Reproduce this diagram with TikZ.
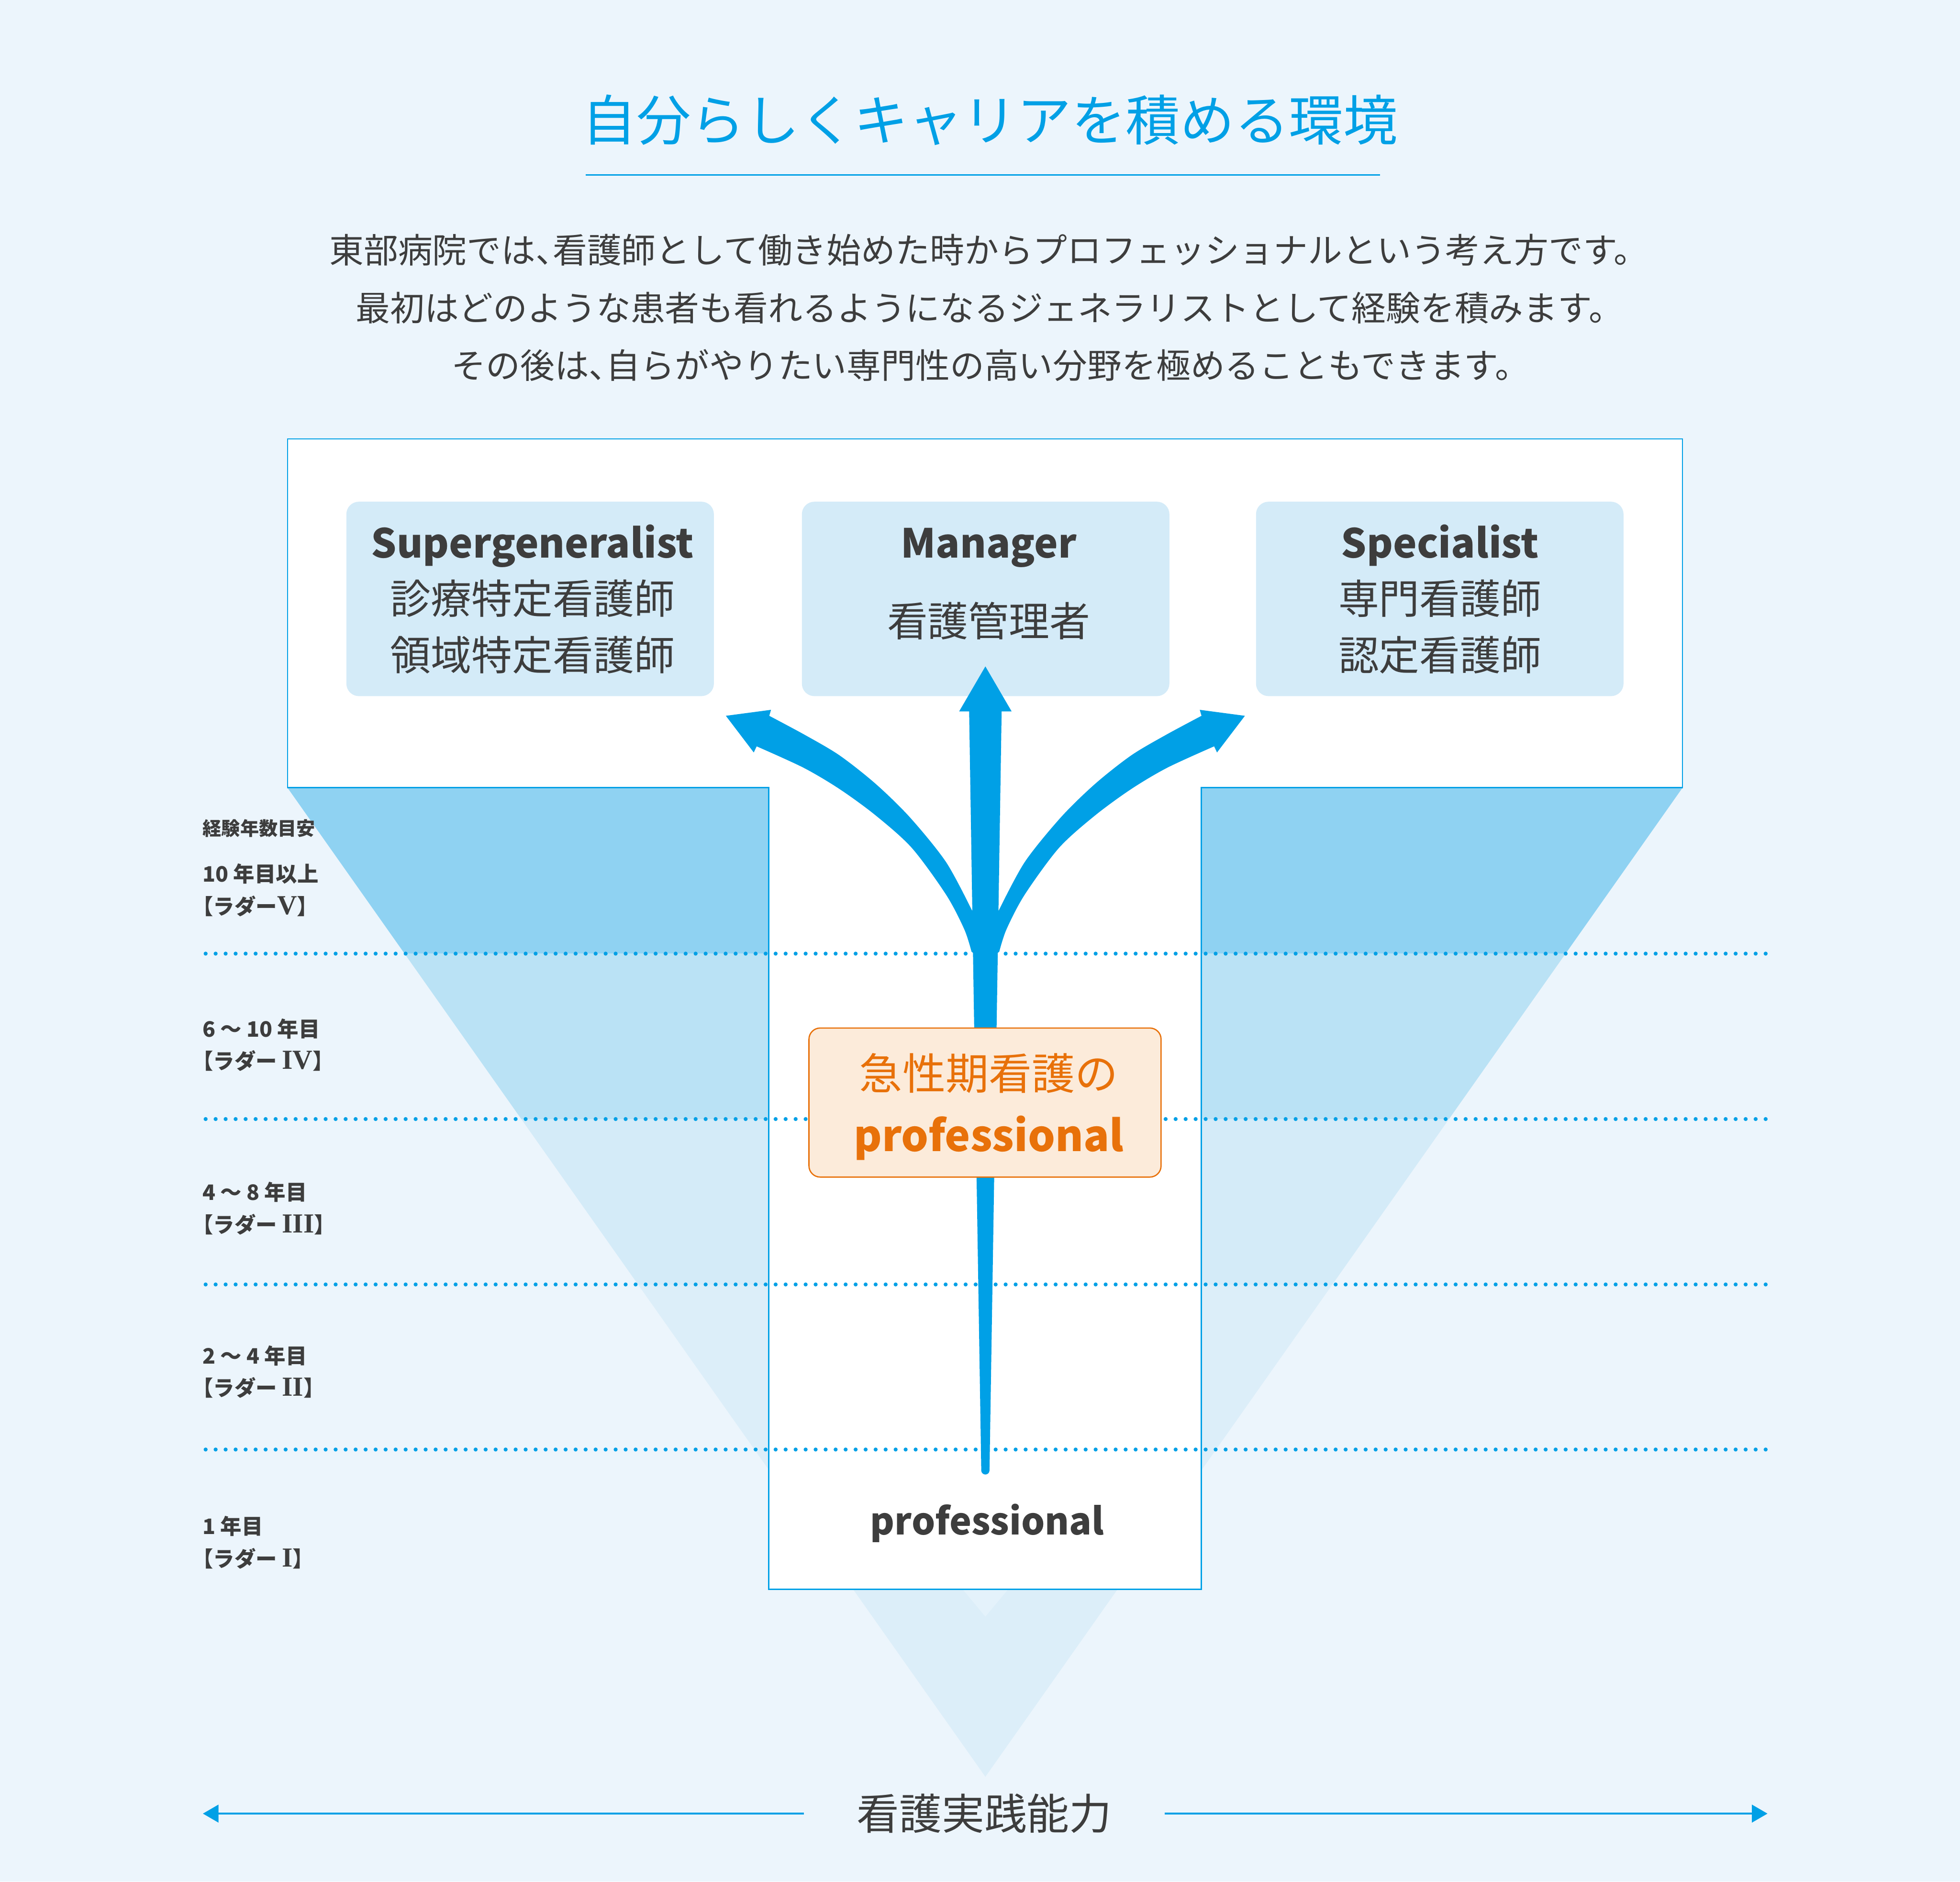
\documentclass[tikz,border=0pt]{standalone}
\usepackage{fontspec}
\setmainfont{Noto Sans CJK JP}
\newfontfamily\romanfont{Liberation Serif}
\usepackage{tikz}
\usetikzlibrary{arrows.meta}
\usepackage{xcolor}

\definecolor{bgblue}{HTML}{ECF5FC}
\definecolor{mainblue}{HTML}{00A0E6}
\definecolor{textgray}{HTML}{3D3D3D}
\definecolor{bandA}{HTML}{8FD2F2}
\definecolor{bandB}{HTML}{BAE2F5}
\definecolor{bandC}{HTML}{D4EBF8}
\definecolor{bandD}{HTML}{DCEEF9}
\definecolor{tipblue}{HTML}{E4F2FB}
\definecolor{boxblue}{HTML}{D4EBF8}
\definecolor{accent}{HTML}{E8710A}
\definecolor{accentfill}{HTML}{FCEBDA}

\newcommand{\setsize}[1]{\fontsize{#1}{#1}\selectfont}
\newcommand{\lbr}{\kern-0.5em【}
\newcommand{\rbr}{】\kern-0.5em}
\newcommand{\rnum}[1]{{\romanfont\bfseries\setsize{22}#1}}

\tikzset{
  career/.style={rectangle, rounded corners=10pt, fill=boxblue, minimum width=294pt, minimum height=155.5pt},
  careerhead/.style={anchor=base, text=textgray, font=\setsize{32}\bfseries},
  careerjp/.style={text=textgray, font=\setsize{32.5}},
  intro/.style={anchor=west, inner sep=0pt, text=textgray, font=\setsize{27.5}},
  yearlabel/.style={anchor=west, inner sep=0pt, text=textgray, font=\setsize{17}\bfseries},
  ladder/.style={mainblue, line width=3.2pt, line cap=round, dash pattern=on 0pt off 8pt},
  axisline/.style={mainblue, line width=1.7pt, -{Triangle[length=12.5pt, width=14pt]}}
}

\begin{document}
\begin{tikzpicture}[x=1pt, y=-1pt]
          % Variables
          \def \midx  {788.3}
          \def \lineA {762.7}
          \def \lineB {895}
          \def \lineC {1027.3}
          \def \lineD {1159.3}

          % Background
          \fill[bgblue] (0,0) rectangle (1568,1505);
          \useasboundingbox (0,0) rectangle (1568,1505);

          % Title
          \node[anchor=west, inner sep=0pt, text=mainblue, font=\setsize{43.5}] (title) at (465.5,96) {自分らしくキャリアを積める環境};
          \draw[mainblue, line width=1.2pt] (468.5,140) -- (1104.2,140);

          % Intro text
          \node[intro] (intro1) at (263.3,200) {東部病院では、\kern-0.5em看護師として働き始めた時からプロフェッショナルという考え方です。};
          \node[intro] (intro2) at (284.4,246.3) {最初はどのような患者も看れるようになるジェネラリストとして経験を積みます。};
          \node[intro] (intro3) at (361,292) {その後は、\kern-0.5em自らがやりたい専門性の高い分野を極めることもできます。};

          % Funnel
          \begin{scope}
            \clip (230,630) -- (1346,630) -- (\midx,1421) -- cycle;
            \fill[bandA] (200,630) rectangle (1400,\lineA);
            \fill[bandB] (200,\lineA) rectangle (1400,\lineB);
            \fill[bandC] (200,\lineB) rectangle (1400,\lineC);
            \fill[bandD] (200,\lineC) rectangle (1400,1430);
          \end{scope}
          \fill[tipblue] (770,1271) -- (806.6,1271) -- (\midx,1293) -- cycle;

          % T frame
          \draw[mainblue, line width=1pt, fill=white] (230,351) -- (1346,351) -- (1346,630) -- (961,630)
                -- (961,1271) -- (615,1271) -- (615,630) -- (230,630) -- cycle;

          % Career boxes
          \node[career] (superbox) at (424.1,479) {};
          \node[career] (managerbox) at (788.5,479) {};
          \node[career] (specbox) at (1151.8,479) {};

          \node[careerhead] (superhead) at (426,446) {Supergeneralist};
          \node[careerjp] (super1) at (426,478.5) {診療特定看護師};
          \node[careerjp] (super2) at (426,524) {領域特定看護師};

          \node[careerhead] (managerhead) at (791,446) {Manager};
          \node[careerjp] (manager1) at (791,496.5) {看護管理者};

          \node[careerhead] (spechead) at (1152,446) {Specialist};
          \node[careerjp] (spec1) at (1152,478.5) {専門看護師};
          \node[careerjp] (spec2) at (1152,524) {認定看護師};

          % Year labels
          \node[yearlabel, font=\setsize{15}\bfseries] (yearhead) at (162,662.5) {経験年数目安};
          \node[yearlabel] (year5) at (162,699) {10 年目以上};
          \node[yearlabel] (ladder5) at (162,724.7) {\lbr ラダー\rnum{V}\rbr};
          \node[yearlabel] (year4) at (162,823) {6 〜 10 年目};
          \node[yearlabel] (ladder4) at (162,848.4) {\lbr ラダー \rnum{IV}\rbr};
          \node[yearlabel] (year3) at (162,953.5) {4 〜 8 年目};
          \node[yearlabel] (ladder3) at (162,979.2) {\lbr ラダー \rnum{III}\rbr};
          \node[yearlabel] (year2) at (162,1084.4) {2 〜 4 年目};
          \node[yearlabel] (ladder2) at (162,1109.7) {\lbr ラダー \rnum{II}\rbr};
          \node[yearlabel] (year1) at (162,1220.6) {1 年目};
          \node[yearlabel] (ladder1) at (162,1246.7) {\lbr ラダー \rnum{I}\rbr};

          % Dotted lines
          \draw[ladder] (164.5,\lineA) -- (1414,\lineA);
          \draw[ladder] (164.5,\lineB) -- (1414,\lineB);
          \draw[ladder] (164.5,\lineC) -- (1414,\lineC);
          \draw[ladder] (164.5,\lineD) -- (1414,\lineD);

          % Arrows
          \def \branch {\fill[mainblue] (605.3,596.9) -- (603,601.8) -- (580.7,572.5) -- (616.8,567.7) -- (615.4,572.5)
                -- plot[smooth] coordinates {(615.4,572.5) (644.3,588) (671.7,604.2) (700.6,627) (728,653.8) (756.9,689.6) (777.5,728)}
                -- (\midx,735) -- (\midx,770)
                -- plot[smooth] coordinates {(777.2,761.1) (771.4,743.2) (756.9,715.6) (729.5,678.2) (700.6,652.2) (671.7,631.1) (642.8,614) (605.3,596.9)}
                -- cycle;}
          \branch
          \begin{scope}[xshift=1576.6pt, xscale=-1]
            \branch
          \end{scope}
          \fill[mainblue] (\midx,533) -- (809.3,569) -- (801.3,569) -- (791.6,1176) -- (785,1176) -- (775.3,569) -- (767.3,569) -- cycle;
          \fill[mainblue] (\midx,1176) circle (3.3);

          % Acute care box
          \node[rectangle, rounded corners=9pt, draw=accent, line width=1pt, fill=accentfill,
                minimum width=281.7pt, minimum height=119.2pt] (acutebox) at (788,881.8) {};
          \node[text=accent, font=\setsize{34.5}] (acutejp) at (791,858.5) {急性期看護の};
          \node[anchor=base, text=accent, font=\setsize{34.3}\bfseries] (acuteen) at (791,921) {professional};

          % Base level
          \node[anchor=base, text=textgray, font=\setsize{29.7}\bfseries] (basepro) at (789.8,1227.5) {professional};

          % Axis
          \node[inner xsep=42pt, text=textgray, font=\setsize{34}] (ability) at (787.5,1450.5) {看護実践能力};
          \coordinate (axisleft) at (162.3,1450);
          \coordinate (axisright) at (1414,1450);
          \draw[axisline] (ability.west) -- (ability.west -| axisleft);
          \draw[axisline] (ability.east) -- (ability.east -| axisright);

        \end{tikzpicture}
\end{document}
